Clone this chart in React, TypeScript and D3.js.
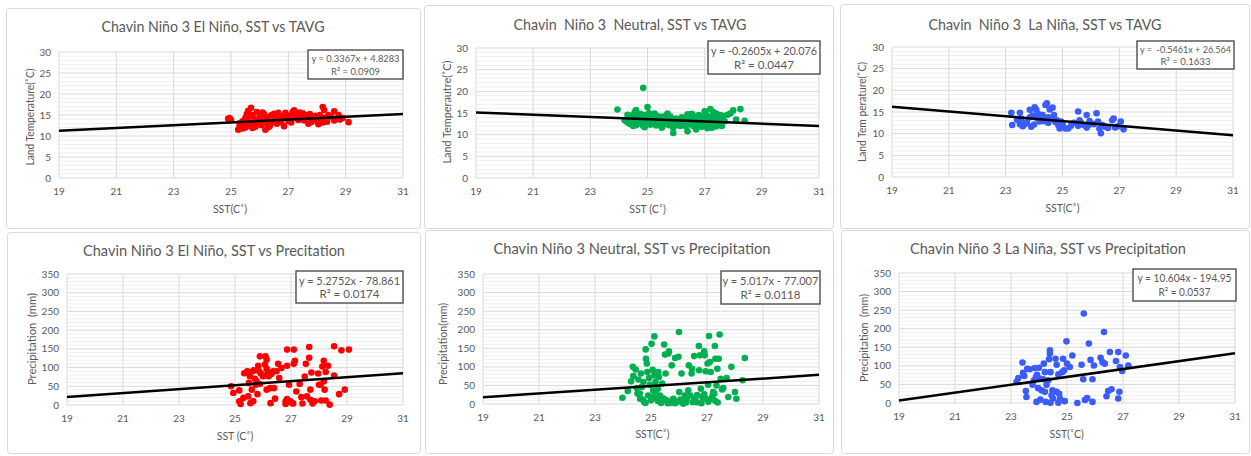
import React from 'react';
import * as d3 from 'd3';

type Pt = [number, number];

const xTicks = [19, 21, 23, 25, 27, 29, 31];
const tempTicks = [0, 5, 10, 15, 20, 25, 30];
const precipTicks = [0, 50, 100, 150, 200, 250, 300, 350];

const elNinoTemp: Pt[] = [
  [24.9, 14.1], [25.0, 13.8], [24.95, 14.3], [25.25, 11.5], [25.3, 12.2], [25.3, 13.0], [25.35, 12.6], [25.4, 11.8],
  [25.4, 13.5], [25.45, 12.9], [25.5, 14.2], [25.5, 12.0], [25.55, 15.2], [25.55, 13.4], [25.6, 16.0], [25.6, 12.4],
  [25.65, 14.6], [25.7, 16.7], [25.7, 13.1], [25.75, 11.9], [25.75, 15.0], [25.8, 12.8], [25.85, 14.0], [25.85, 12.2],
  [25.9, 15.7], [25.95, 13.5], [26.0, 14.4], [26.05, 12.6], [26.1, 15.6], [26.1, 13.2], [26.15, 15.2], [26.2, 11.5],
  [26.2, 14.6], [26.25, 12.9], [26.3, 13.8], [26.35, 12.4], [26.4, 14.9], [26.45, 13.3], [26.5, 15.3], [26.55, 14.1],
  [26.6, 12.9], [26.65, 15.5], [26.7, 14.0], [26.75, 13.3], [26.85, 12.3], [26.9, 15.5], [26.95, 14.4], [27.0, 13.6],
  [27.05, 14.8], [27.1, 13.2], [27.15, 15.7], [27.2, 16.1], [27.25, 14.5], [27.3, 15.0], [27.35, 13.8], [27.4, 15.6],
  [27.45, 14.2], [27.5, 15.4], [27.55, 13.7], [27.6, 15.0], [27.65, 14.5], [27.7, 12.9], [27.75, 15.2], [27.8, 13.3],
  [27.85, 14.6], [27.9, 13.9], [27.95, 14.8], [28.0, 13.5], [28.05, 12.8], [28.1, 15.0], [28.15, 14.1], [28.2, 16.9],
  [28.2, 13.2], [28.25, 16.2], [28.3, 14.4], [28.35, 13.4], [28.4, 15.0], [28.5, 14.6], [28.6, 15.9], [28.6, 13.7],
  [28.75, 15.0], [28.8, 13.9], [28.9, 14.3], [29.1, 13.3], [25.5, 12.7], [25.9, 13.0], [26.3, 12.1], [26.8, 14.7],
];

const neutralTemp: Pt[] = [
  [23.95, 15.8], [24.2, 13.3], [24.3, 12.8], [24.35, 13.9], [24.4, 12.4], [24.45, 14.4], [24.5, 13.1], [24.55, 15.2],
  [24.6, 15.7], [24.6, 12.2], [24.65, 14.0], [24.7, 13.5], [24.7, 12.6], [24.75, 14.8], [24.8, 13.2], [24.85, 20.8],
  [24.85, 12.0], [24.9, 14.5], [24.9, 11.7], [24.95, 13.8], [25.0, 16.4], [25.0, 12.9], [25.05, 15.0], [25.05, 13.4],
  [25.1, 12.3], [25.15, 14.2], [25.2, 13.6], [25.2, 12.6], [25.25, 14.9], [25.3, 13.1], [25.3, 12.1], [25.35, 14.3],
  [25.4, 13.5], [25.45, 12.7], [25.5, 14.1], [25.5, 11.6], [25.55, 13.3], [25.6, 12.4], [25.65, 14.4], [25.7, 13.0],
  [25.75, 12.2], [25.8, 14.2], [25.85, 13.4], [25.9, 10.4], [25.9, 11.6], [25.95, 12.8], [26.0, 13.7], [26.05, 12.5],
  [26.1, 13.2], [26.15, 12.0], [26.2, 14.0], [26.25, 12.9], [26.3, 13.5], [26.35, 11.9], [26.4, 14.7], [26.4, 10.8],
  [26.45, 13.1], [26.5, 12.4], [26.55, 14.8], [26.55, 13.6], [26.6, 12.0], [26.65, 14.2], [26.7, 11.2], [26.7, 13.2],
  [26.75, 12.6], [26.8, 14.5], [26.85, 13.0], [26.9, 11.8], [26.9, 14.0], [26.95, 12.4], [27.0, 15.4], [27.0, 13.6],
  [27.05, 12.1], [27.05, 14.6], [27.1, 13.2], [27.1, 11.5], [27.15, 12.7], [27.2, 15.9], [27.2, 14.1], [27.25, 13.4],
  [27.25, 11.6], [27.3, 15.2], [27.3, 12.3], [27.35, 14.4], [27.35, 13.0], [27.4, 11.9], [27.45, 12.6], [27.5, 13.6],
  [27.55, 14.5], [27.6, 12.0], [27.65, 14.3], [27.7, 13.1], [27.8, 14.6], [27.9, 14.9], [28.0, 15.6], [28.1, 13.5],
  [28.25, 15.9], [28.4, 13.2], [24.6, 13.7], [24.75, 12.9], [25.1, 14.6], [25.4, 12.5], [25.6, 13.9], [25.8, 12.7],
  [26.0, 12.2], [26.2, 13.1], [26.5, 13.9], [26.6, 12.8], [26.8, 12.2], [27.0, 12.7], [27.15, 14.0], [27.3, 13.7],
  [27.4, 14.9], [24.3, 14.6], [24.5, 12.0], [25.25, 13.9], [25.7, 14.9], [26.3, 12.3],
];

const laNinaTemp: Pt[] = [
  [23.2, 14.8], [23.23, 12.0], [23.5, 14.8], [23.5, 12.2], [23.55, 13.5], [23.67, 12.2], [23.85, 13.8], [23.85, 15.5],
  [23.9, 11.6], [24.0, 12.1], [24.02, 16.1], [24.08, 15.5], [24.2, 12.8], [24.3, 14.3], [24.4, 16.6], [24.45, 17.0],
  [24.5, 12.5], [24.55, 15.6], [24.65, 16.0], [24.7, 14.3], [24.8, 13.1], [24.85, 12.0], [24.9, 11.2], [24.95, 12.8],
  [25.1, 11.2], [25.2, 11.2], [25.4, 12.5], [25.55, 15.1], [25.55, 11.8], [25.6, 13.1], [25.75, 12.0], [25.85, 14.3],
  [25.85, 11.4], [25.95, 12.9], [26.2, 14.7], [26.25, 12.8], [26.3, 11.2], [26.35, 10.1], [26.4, 12.0], [26.5, 11.6],
  [26.8, 13.5], [26.85, 11.4], [27.05, 12.8], [27.15, 11.0], [23.4, 13.2], [23.6, 11.7], [23.75, 12.6], [24.1, 13.6],
  [24.25, 14.0], [24.35, 12.9], [24.6, 13.4], [24.75, 12.7], [24.95, 11.7], [25.0, 12.2], [25.3, 11.8], [25.65, 12.5],
  [25.9, 11.9], [26.1, 12.2], [26.6, 11.3], [26.75, 13.1], [26.95, 11.7], [24.15, 14.5], [24.5, 13.8], [23.95, 14.2],
];

const elNinoPrecip: Pt[] = [
  [24.86, 50], [24.94, 32], [25.15, 39], [25.15, 10], [25.2, 3], [25.3, 19], [25.33, 85], [25.44, 90],
  [25.47, 23], [25.5, 59], [25.53, 77], [25.55, 5], [25.6, 41], [25.63, 90], [25.65, 10], [25.67, 93],
  [25.71, 70], [25.75, 54], [25.77, 63], [25.8, 29], [25.83, 105], [25.86, 90], [25.89, 130], [25.89, 56],
  [25.92, 85], [26.0, 77], [26.07, 108], [26.09, 130], [26.13, 121], [26.13, 97], [26.16, 85], [26.13, 41],
  [26.2, 77], [26.25, 45], [26.27, 5], [26.3, 83], [26.36, 90], [26.39, 45], [26.43, 17], [26.48, 90],
  [26.54, 110], [26.58, 72], [26.66, 99], [26.86, 148], [26.86, 105], [26.81, 10], [26.81, 3], [26.86, 16],
  [26.93, 54], [26.98, 10], [27.05, 5], [27.1, 148], [27.1, 110], [27.14, 118], [27.08, 4], [27.19, 36],
  [27.31, 56], [27.37, 21], [27.41, 4], [27.49, 76], [27.53, 110], [27.57, 23], [27.65, 155], [27.65, 126],
  [27.69, 41], [27.73, 87], [27.69, 14], [27.77, 4], [27.85, 10], [27.97, 84], [28.0, 54], [28.05, 54],
  [28.08, 12], [28.12, 103], [28.17, 118], [28.17, 63], [28.2, 41], [28.24, 88], [28.24, 12], [28.32, 105],
  [28.38, 1], [28.54, 79], [28.54, 157], [28.72, 29], [28.8, 146], [28.92, 41], [29.07, 148],
];

const neutralPrecip: Pt[] = [
  [23.98, 17], [24.17, 35], [24.29, 61], [24.35, 100], [24.37, 75], [24.45, 93], [24.49, 43], [24.52, 28],
  [24.55, 66], [24.61, 14], [24.64, 82], [24.67, 46], [24.73, 59], [24.76, 5], [24.81, 147], [24.82, 122],
  [24.85, 109], [24.87, 86], [24.9, 23], [24.93, 70], [24.96, 52], [25.0, 10], [25.02, 162], [25.06, 92],
  [25.08, 37], [25.12, 182], [25.12, 77], [25.16, 59], [25.2, 14], [25.24, 41], [25.26, 86], [25.28, 73],
  [25.32, 23], [25.36, 3], [25.4, 55], [25.47, 160], [25.5, 133], [25.52, 82], [25.56, 10], [25.62, 136],
  [25.64, 142], [25.68, 3], [25.74, 104], [25.8, 14], [25.86, 124], [25.92, 5], [25.98, 127], [26.0, 194],
  [26.01, 32], [26.09, 82], [26.13, 5], [26.21, 23], [26.27, 13], [26.33, 37], [26.35, 104], [26.4, 23],
  [26.45, 82], [26.47, 95], [26.49, 5], [26.54, 129], [26.57, 16], [26.63, 5], [26.71, 156], [26.72, 91],
  [26.75, 131], [26.78, 41], [26.83, 19], [26.9, 142], [26.92, 131], [26.95, 88], [26.96, 14], [27.02, 109],
  [27.04, 52], [27.07, 183], [27.1, 113], [27.13, 86], [27.16, 14], [27.22, 32], [27.26, 28], [27.28, 156],
  [27.3, 122], [27.34, 50], [27.37, 95], [27.38, 4], [27.42, 122], [27.45, 187], [27.49, 68], [27.54, 39],
  [27.58, 43], [27.7, 70], [27.76, 19], [27.87, 100], [28.0, 32], [28.05, 14], [28.27, 64], [28.35, 124],
  [24.8, 3], [25.05, 18], [25.25, 8], [25.45, 15], [25.6, 2], [25.75, 8], [25.85, 2], [26.05, 12],
  [26.15, 1], [26.25, 4], [26.55, 8], [26.65, 24], [26.8, 2], [26.9, 26], [27.05, 6], [27.2, 22],
  [27.3, 8], [24.6, 28], [24.7, 12], [25.15, 30],
];

const laNinaPrecip: Pt[] = [
  [23.2, 57], [23.26, 67], [23.41, 109], [23.43, 81], [23.47, 73], [23.53, 32], [23.55, 16], [23.58, 92],
  [23.67, 91], [23.77, 49], [23.82, 61], [23.85, 94], [23.89, 70], [23.91, 3], [23.93, 76], [23.97, 40],
  [24.0, 95], [24.03, 66], [24.05, 9], [24.09, 34], [24.15, 64], [24.17, 106], [24.21, 30], [24.21, 83],
  [24.24, 3], [24.27, 49], [24.33, 61], [24.36, 118], [24.39, 133], [24.39, 142], [24.41, 83], [24.41, 1],
  [24.45, 21], [24.48, 34], [24.5, 12], [24.59, 119], [24.63, 30], [24.63, 103], [24.69, 77], [24.69, 1],
  [24.72, 25], [24.75, 12], [24.83, 83], [24.86, 119], [24.9, 88], [24.92, 5], [24.98, 166], [25.0, 106],
  [25.1, 97], [25.19, 128], [25.37, 0], [25.52, 103], [25.58, 64], [25.6, 241], [25.64, 8], [25.72, 13],
  [25.78, 160], [25.84, 116], [25.91, 64], [25.91, 3], [25.96, 101], [26.2, 122], [26.27, 110], [26.32, 191],
  [26.35, 106], [26.41, 18], [26.47, 32], [26.53, 137], [26.59, 37], [26.75, 113], [26.83, 137], [26.83, 12],
  [26.87, 30], [26.89, 97], [26.97, 86], [27.1, 128], [27.19, 101],
];

const titles = [
  'Chavin Niño 3 El Niño, SST vs TAVG',
  'Chavin  Niño 3  Neutral, SST vs TAVG',
  'Chavin  Niño 3  La Niña, SST vs TAVG',
  'Chavin Niño 3 El Niño, SST vs Precitation',
  'Chavin Niño 3 Neutral, SST vs Precipitation',
  'Chavin Niño 3 La Niña, SST vs Precipitation',
];
const yTitles = [
  'Land Temperature(˚C)', 'Land Temperautre(˚C)', 'Land Tem perature(˚C)',
  'Precipitation  (mm)', 'Precipitation(mm)', 'Precipitation  (mm)',
];
const xTitles = ['SST(C˚)', 'SST (C˚)', 'SST(C˚)', 'SST (C˚)', 'SST(C˚)', 'SST(˚C)'];
const slopes = [0.3367, -0.2605, -0.5461, 5.2752, 5.017, 10.604];
const intercepts = [4.8283, 20.076, 26.564, -78.861, -77.007, -194.95];
const eqLabels = [
  'y = 0.3367x + 4.8283', 'y = -0.2605x + 20.076', 'y =  -0.5461x + 26.564',
  'y = 5.2752x - 78.861', 'y = 5.017x - 77.007', 'y = 10.604x - 194.95',
];
const r2Labels = ['R² = 0.0909', 'R² = 0.0447', 'R² = 0.1633', 'R² = 0.0174', 'R² = 0.0118', 'R² = 0.0537'];

const seriesData = [elNinoTemp, neutralTemp, laNinaTemp, elNinoPrecip, neutralPrecip, laNinaPrecip];
const colors = ['#ff0000', '#00b050', '#3a5cfb', '#ff0000', '#00b050', '#3a5cfb'];

// layout (pixels)
const layout = [
  { frame: [6.5, 8.5, 414, 220], plot: [59, 52, 403, 178], title: [213, 32, 223], eq: [308, 50, 95, 29, 88, 49, 10], yT: [30, 117, 97], xT: [230, 213] },
  { frame: [424.5, 5.5, 409, 223], plot: [476, 48, 819, 178], title: [630, 29.5, 233], eq: [708, 41, 112, 33, 106, 60, 11.5], yT: [447, 112, 103], xT: [647.5, 213] },
  { frame: [840.5, 4.5, 409, 224], plot: [892, 47, 1233, 177], title: [1045, 29.5, 233], eq: [1137, 41, 97, 28, 91, 50, 10], yT: [862, 112, 100], xT: [1062.5, 212] },
  { frame: [7.5, 232.5, 413, 221], plot: [67, 274, 403, 405], title: [214, 256, 262], eq: [296, 271, 107, 32, 101, 60, 11.5], yT: [32, 339, 92], xT: [235, 440] },
  { frame: [425.5, 230.5, 408, 223], plot: [483, 274, 819, 404], title: [632, 254, 277], eq: [721, 271, 99, 33, 96, 60, 11.5], yT: [443, 344, 82], xT: [652.5, 438] },
  { frame: [841.5, 230.5, 408, 223], plot: [899, 273, 1235, 403], title: [1048, 254, 276], eq: [1133, 269, 103, 32, 94, 52, 10.5], yT: [864, 338, 88], xT: [1066.7, 438] },
];

const FONT = 'Lato, "Open Sans", sans-serif';
const TXT = '#595959';

function Panel({ i }: { i: number }) {
  const L = layout[i];
  const isTemp = i < 3;
  const yTicks = isTemp ? tempTicks : precipTicks;
  const yMax = yTicks[yTicks.length - 1];
  const minorStep = isTemp ? 1 : 10;
  const [px0, py0, px1, py1] = L.plot;
  const x = d3.scaleLinear().domain([xTicks[0], xTicks[xTicks.length - 1]]).range([px0, px1]);
  const y = d3.scaleLinear().domain([0, yMax]).range([py1, py0]);
  const minor = d3.range(0, yMax + 0.001, minorStep).filter((v) => !yTicks.includes(v));
  const line = d3.line<number>().x((v) => x(v)).y((v) => y(slopes[i] * v + intercepts[i]));
  const [ex, ey, ew, eh, tw1, tw2, efs] = L.eq;
  return (
    <g>
      <rect x={L.frame[0]} y={L.frame[1]} width={L.frame[2]} height={L.frame[3]} rx={3} fill="#fff" stroke="#d9d9d9" strokeWidth={1} />
      <text x={L.title[0]} y={L.title[1]} textAnchor="middle" fontSize={15} fill={TXT} fontFamily={FONT}
        textLength={L.title[2]} lengthAdjust="spacingAndGlyphs" style={{ whiteSpace: 'pre' }}>{titles[i]}</text>
      {minor.map((v) => (
        <line key={'m' + v} x1={px0} x2={px1} y1={y(v)} y2={y(v)} stroke="#efefef" strokeWidth={1} />
      ))}
      {yTicks.map((v) => (
        <line key={'h' + v} x1={px0} x2={px1} y1={y(v)} y2={y(v)} stroke="#d9d9d9" strokeWidth={1} />
      ))}
      {xTicks.map((v) => (
        <line key={'v' + v} x1={x(v)} x2={x(v)} y1={py0} y2={py1} stroke="#d9d9d9" strokeWidth={1} />
      ))}
      {yTicks.map((v) => (
        <text key={'yl' + v} x={px0 - 8} y={y(v)} dy="0.35em" textAnchor="end" fontSize={10} fill={TXT} fontFamily={FONT}>{v}</text>
      ))}
      {xTicks.map((v) => (
        <text key={'xl' + v} x={x(v)} y={py1 + 17} textAnchor="middle" fontSize={10} fill={TXT} fontFamily={FONT}>{v}</text>
      ))}
      <text x={L.xT[0]} y={L.xT[1]} textAnchor="middle" fontSize={10.5} fill={TXT} fontFamily={FONT} style={{ whiteSpace: 'pre' }}>{xTitles[i]}</text>
      <text transform={`translate(${L.yT[0]},${L.yT[1]}) rotate(-90)`} textAnchor="middle" dy="0.35em" fontSize={10.5} fill={TXT}
        fontFamily={FONT} textLength={L.yT[2]} lengthAdjust="spacingAndGlyphs" style={{ whiteSpace: 'pre' }}>{yTitles[i]}</text>
      {seriesData[i].map((p, k) => (
        <circle key={k} cx={x(p[0])} cy={y(p[1])} r={3.3} fill={colors[i]} />
      ))}
      <path d={line([xTicks[0], xTicks[xTicks.length - 1]]) || ''} stroke="#000" strokeWidth={2.5} fill="none" />
      <rect x={ex} y={ey} width={ew} height={eh} fill="#fff" stroke="#404040" strokeWidth={1.3} />
      <text x={ex + ew / 2} y={ey + eh * 0.3} dy="0.35em" textAnchor="middle" fontSize={efs} fill={TXT} fontFamily={FONT}
        textLength={tw1} lengthAdjust="spacingAndGlyphs" style={{ whiteSpace: 'pre' }}>{eqLabels[i]}</text>
      <text x={ex + ew / 2} y={ey + eh * 0.73} dy="0.35em" textAnchor="middle" fontSize={efs} fill={TXT} fontFamily={FONT}
        textLength={tw2} lengthAdjust="spacingAndGlyphs">{r2Labels[i]}</text>
    </g>
  );
}

export default function App() {
  return (
    <svg width={1251} height={456} style={{ position: 'absolute', left: 0, top: 0, background: '#fff' }}>
      <rect x={0} y={0} width={1251} height={456} fill="#fff" />
      {layout.map((_, i) => (
        <Panel key={i} i={i} />
      ))}
    </svg>
  );
}
